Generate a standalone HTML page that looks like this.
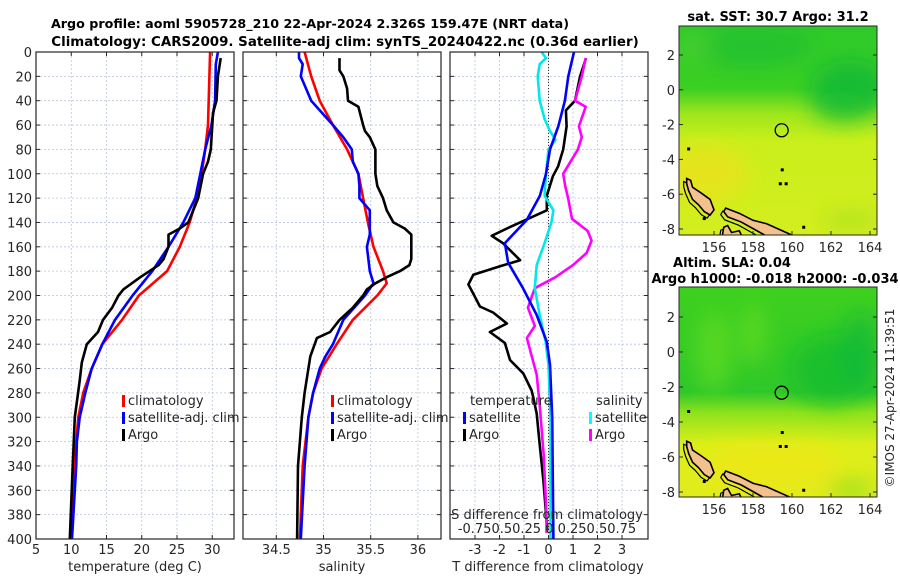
<!DOCTYPE html>
<html><head><meta charset="utf-8">
<style>
html,body{margin:0;padding:0;background:#fff;}
svg{display:block;font-family:"DejaVu Sans","Liberation Sans",sans-serif;}
</style></head>
<body>
<svg id="chart" width="900" height="580" viewBox="0 0 900 580" xmlns="http://www.w3.org/2000/svg">
<defs>
<clipPath id="cp1"><rect x="36" y="52" width="198" height="487"/></clipPath>
<clipPath id="cp2"><rect x="243" y="52" width="198" height="487"/></clipPath>
<clipPath id="cp3"><rect x="450" y="52" width="198" height="487"/></clipPath>
<clipPath id="cpm1"><rect x="679" y="26" width="198" height="209"/></clipPath>
<clipPath id="cpm2"><rect x="679" y="287" width="198" height="210"/></clipPath>
<filter id="blur" x="-50%" y="-50%" width="200%" height="200%"><feGaussianBlur stdDeviation="10"/></filter>
<linearGradient id="gTop" x1="0" y1="0" x2="0" y2="1">
<stop offset="0" stop-color="#2ec92a"/><stop offset="0.3" stop-color="#3ccf22"/><stop offset="0.42" stop-color="#9ee61c"/><stop offset="0.55" stop-color="#c9ef1c"/><stop offset="1" stop-color="#d4ee1e"/></linearGradient>
<linearGradient id="gBot" x1="0" y1="0" x2="0" y2="1">
<stop offset="0" stop-color="#3fd01f"/><stop offset="0.5" stop-color="#2fc82a"/><stop offset="0.6" stop-color="#8fe21c"/><stop offset="0.75" stop-color="#dcef1a"/><stop offset="1" stop-color="#e2ec1c"/></linearGradient>
</defs>
<g id="root"></g>
</svg>
<script>
// ---- Temperature profiles (depth in dbar, temperature deg C)
const tClimDepth=[0,60,80,100,120,140,160,180,200,220,240,260,280,300,320,340,360,400];
const tClimVal=[29.7,29.4,29.0,28.5,27.8,26.8,25.4,23.6,19.6,17.2,14.4,12.9,11.7,11.0,10.7,10.4,10.2,9.9];
const tSatDepth=[0,10,40,60,80,100,120,140,160,180,200,220,240,260,280,300,320,340,360,400];
const tSatVal=[30.8,30.5,30.4,29.9,29.0,28.3,27.6,25.9,23.8,21.5,18.7,16.2,14.4,12.9,12.0,11.2,10.8,10.7,10.5,10.1];
const tArgoDepth=[5,20,40,50,60,80,90,100,120,140,145,150,160,170,175,185,195,200,210,220,230,240,255,270,300,340,400];
const tArgoVal=[31.2,30.8,30.6,30.1,30.0,29.8,29.4,28.7,28.0,26.6,25.4,23.8,23.8,23.1,22.4,19.8,17.4,16.7,15.8,14.5,13.8,12.2,11.5,11.2,10.5,10.2,9.8];
// ---- Salinity profiles
const sClimDepth=[0,20,40,60,80,100,120,140,160,180,190,200,220,240,260,280,300,340,400];
const sClimVal=[34.80,34.87,34.96,35.10,35.25,35.37,35.42,35.47,35.53,35.63,35.67,35.57,35.31,35.14,34.98,34.89,34.84,34.78,34.75];
const sSatDepth=[0,5,10,20,40,60,70,80,90,100,110,120,130,150,160,180,190,200,220,240,250,260,280,300,340,400];
const sSatVal=[34.74,34.74,34.78,34.76,34.87,35.10,35.21,35.30,35.31,35.37,35.38,35.38,35.49,35.49,35.46,35.49,35.53,35.44,35.21,35.10,35.02,34.96,34.89,34.84,34.80,34.76];
const sArgoDepth=[5,15,20,30,40,45,60,65,70,80,100,110,120,130,140,145,150,160,170,175,180,185,190,195,200,210,220,230,235,250,260,280,300,340,400];
const sArgoVal=[35.17,35.17,35.21,35.25,35.26,35.37,35.42,35.44,35.49,35.55,35.55,35.57,35.63,35.67,35.74,35.86,35.93,35.93,35.93,35.91,35.81,35.67,35.55,35.46,35.42,35.31,35.17,35.07,34.93,34.86,34.84,34.80,34.77,34.73,34.72];
// ---- Differences from climatology
const dTSatDepth=[0,20,40,61,80,100,118,138,157,173,194,216,238,257,300,400];
const dTSatVal=[1.04,0.81,0.67,0.40,0.06,-0.10,-0.35,-0.89,-1.78,-1.65,-1.04,-0.48,-0.07,0.06,0.15,0.20];
const dTArgoDepth=[5,20,40,48,61,80,94,102,118,130,140,145,151,157,171,176,183,191,198,209,214,223,230,239,253,264,278,283,297,324,352,379,393];
const dTArgoVal=[1.53,1.29,1.08,0.71,0.74,0.60,0.39,0.18,-0.07,-0.07,-1.16,-1.70,-2.32,-1.86,-1.16,-1.98,-3.07,-3.27,-3.08,-2.80,-2.26,-1.70,-2.39,-1.78,-1.57,-1.03,-0.69,-0.63,-0.48,-0.35,-0.21,-0.10,-0.05];
const dSSatDepth=[0,5,10,20,40,55,65,72,80,100,118,130,140,157,175,194,216,238,257,300,400];
const dSSatVal=[-0.07,-0.025,-0.09,-0.11,-0.09,-0.04,0.015,0.07,0.0,-0.025,-0.04,0.05,0.03,-0.04,-0.12,-0.14,-0.09,-0.03,0.0,0.02,0.02];
const dSArgoDepth=[5,20,40,45,61,70,80,100,110,120,137,147,155,165,175,185,194,210,225,235,250,265,290,330,380,395];
const dSArgoVal=[0.38,0.34,0.27,0.38,0.31,0.34,0.30,0.15,0.17,0.20,0.24,0.40,0.44,0.39,0.25,0.07,-0.14,-0.21,-0.14,-0.22,-0.17,-0.12,-0.09,-0.05,-0.02,-0.02];
// ---- Tick labels
const depthTicks=[0,20,40,60,80,100,120,140,160,180,200,220,240,260,280,300,320,340,360,380,400];
const tTicks=[5,10,15,20,25,30];
const sTicks=[34.5,35,35.5,36];
const dTTicks=[-3,-2,-1,0,1,2,3];
const lonTicks=[156,158,160,162,164];
const latTicks=[2,0,-2,-4,-6,-8];
// ---- Argo location
const argoLon=[159.47];
const argoLat=[-2.326];

const NS='http://www.w3.org/2000/svg';
const root=document.getElementById('root');
function mk(tag,attrs,parent){const e=document.createElementNS(NS,tag);for(const k in attrs)e.setAttribute(k,attrs[k]);(parent||root).appendChild(e);return e;}
function txt(x,y,s,attrs,parent){const e=mk('text',Object.assign({x:x,y:y,'font-size':13,fill:'#262626'},attrs||{}),parent);e.textContent=s;return e;}

const PT=52,PB=539,PH=PB-PT;
const yD=d=>PT+d/400*PH;
const xT=t=>36+(t-5)*7.05;
const xS=s=>276.3+(s-34.5)*94.4;
const xDT=v=>548.5+v*24.5;
const xDS=v=>548.5+v*4*24.5;

function panel(x0,name,vticks,xf,labelFmt,showLabels){
  const g=mk('g',{});
  
  
  depthTicks.forEach(d=>{mk('line',{x1:x0,x2:x0+198,y1:yD(d),y2:yD(d),stroke:'#b8c4dc','stroke-width':0.8,'stroke-dasharray':'2,2'},g);
    mk('line',{x1:x0,x2:x0+4,y1:yD(d),y2:yD(d),stroke:'#262626'},g);
    mk('line',{x1:x0+194,x2:x0+198,y1:yD(d),y2:yD(d),stroke:'#262626'},g);});
  vticks.forEach(v=>{const x=xf(v);mk('line',{x1:x,x2:x,y1:PT,y2:PB,stroke:'#b8c4dc','stroke-width':0.8,'stroke-dasharray':'2,2'},g);
    mk('line',{x1:x,x2:x,y1:PB-4,y2:PB,stroke:'#262626'},g);mk('line',{x1:x,x2:x,y1:PT,y2:PT+4,stroke:'#262626'},g);
    if(showLabels){const t=txt(x,554,labelFmt(v),{'text-anchor':'middle'},g);
      
      }});
  return g;
}
function frame(x0,name){const r=mk('rect',{x:x0,y:PT,width:198,height:PH,fill:'none',stroke:'#262626','stroke-width':1.2});
  
  }
function series(depths,vals,xf,color,clip,name){
  const pts=depths.map((d,i)=>xf(vals[i]).toFixed(1)+','+yD(d).toFixed(1)).join(' ');
  const p=mk('polyline',{points:pts,fill:'none',stroke:color,'stroke-width':2.6,'stroke-linejoin':'round','clip-path':'url(#'+clip+')'});
  
  
}
function legendEntry(x,y,color,label,name){
  const g=mk('g',{});
  
  
  mk('rect',{x:x,y:y-10,width:3,height:12,fill:color},g);
  txt(x+6,y,label,{'font-size':13},g);
}

// Title
const t1=txt(310,28,'Argo profile: aoml 5905728_210 22-Apr-2024 2.326S 159.47E (NRT data)',{'text-anchor':'middle','font-weight':'bold',fill:'#000','font-size':12.7});


const t2=txt(345,46,'Climatology: CARS2009. Satellite-adj clim: synTS_20240422.nc (0.36d earlier)',{'text-anchor':'middle','font-weight':'bold',fill:'#000','font-size':13.4});



// Panel 1 temperature
panel(36,'temperature-grid',tTicks,xT,v=>String(v),true);
depthTicks.forEach(d=>{const t=txt(32,yD(d)+5,String(d),{'text-anchor':'end'});
  
  });
series(tClimDepth,tClimVal,xT,'#ff0000','cp1','temperature-climatology-line');
series(tSatDepth,tSatVal,xT,'#0000ff','cp1','temperature-satellite-line');
series(tArgoDepth,tArgoVal,xT,'#000000','cp1','temperature-argo-line');
frame(36,'temperature-axes');
legendEntry(122,405,'#ff0000','climatology','legend-climatology');
legendEntry(122,422,'#0000ff','satellite-adj. clim','legend-satellite');
legendEntry(122,439,'#000000','Argo','legend-argo');
let xl=txt(135,571,'temperature (deg C)',{'text-anchor':'middle'});



// Panel 2 salinity
panel(243,'salinity-grid',sTicks,xS,v=>String(v),true);
series(sClimDepth,sClimVal,xS,'#ff0000','cp2','salinity-climatology-line');
series(sSatDepth,sSatVal,xS,'#0000ff','cp2','salinity-satellite-line');
series(sArgoDepth,sArgoVal,xS,'#000000','cp2','salinity-argo-line');
frame(243,'salinity-axes');
legendEntry(331,405,'#ff0000','climatology','legend-climatology-s');
legendEntry(331,422,'#0000ff','satellite-adj. clim','legend-satellite-s');
legendEntry(331,439,'#000000','Argo','legend-argo-s');
xl=txt(342,571,'salinity',{'text-anchor':'middle'});



// Panel 3 differences
panel(450,'difference-grid',dTTicks,xDT,v=>String(v),true);
mk('line',{x1:xDT(0),x2:xDT(0),y1:PT,y2:PB,stroke:'#333','stroke-width':1,'stroke-dasharray':'1,2'});
series(dTArgoDepth,dTArgoVal,xDT,'#000000','cp3','t-diff-argo-line');
series(dSArgoDepth,dSArgoVal,xDS,'#ff00ff','cp3','s-diff-argo-line');
series(dSSatDepth,dSSatVal,xDS,'#00e8e8','cp3','s-diff-satellite-line');
series(dTSatDepth,dTSatVal,xDT,'#0000ff','cp3','t-diff-satellite-line');
frame(450,'difference-axes');
txt(470,405,'temperature',{});
txt(596,405,'salinity',{});
legendEntry(463,422,'#0000ff','satellite','legend-t-satellite');
legendEntry(463,439,'#000000','Argo','legend-t-argo');
legendEntry(589,422,'#00ffff','satellite','legend-s-satellite');
legendEntry(589,439,'#ff00ff','Argo','legend-s-argo');
xl=txt(547,519,'S difference from climatology',{'text-anchor':'middle'});


xl=txt(547,533,'-0.750.50.25 0 0.250.50.75',{'text-anchor':'middle'});


xl=txt(548,571,'T difference from climatology',{'text-anchor':'middle'});



// Maps
const xLon=l=>714+(l-156)*19.5;
const land1=[[154.6,-5.1],[154.8,-5.2],[154.9,-5.6],[155.3,-5.9],[155.8,-6.3],[156.0,-6.9],[155.8,-7.2],[155.5,-7.0],[155.2,-6.6],[154.9,-6.3],[154.7,-5.8],[154.6,-5.4]];
const land2=[[156.6,-6.8],[157.3,-7.1],[158.0,-7.5],[158.7,-7.7],[159.3,-8.0],[159.9,-8.3],[160.3,-8.6],[159.0,-8.6],[158.2,-8.1],[157.4,-7.6],[156.7,-7.3],[156.5,-7.0]];
const land3=[[156.5,-7.9],[156.7,-7.8],[156.9,-8.2],[157.3,-8.1],[157.5,-8.6],[156.4,-8.6]];
function map(top,bottom,yLat,gradId,blobs,titleLines,name,clip){
  const g=mk('g',{});
  
  
  const c=mk('g',{'clip-path':'url(#'+clip+')'},g);
  mk('rect',{x:679,y:top,width:198,height:bottom-top,fill:'url(#'+gradId+')'},c);
  const bg=mk('g',{filter:'url(#blur)'},c);
  blobs.forEach(b=>mk('ellipse',{cx:xLon(b[0]),cy:yLat(b[1]),rx:b[2],ry:b[3],fill:b[4],opacity:b[5]},bg));
  [land1,land2,land3].forEach(poly=>{
    mk('polygon',{points:poly.map(p=>(xLon(p[0])-3)+','+(yLat(p[1])+3)).join(' '),fill:'none',stroke:'#000','stroke-width':1.2},c);
    const pl=mk('polygon',{points:poly.map(p=>xLon(p[0])+','+yLat(p[1])).join(' '),fill:'#f4c08e',stroke:'#000','stroke-width':1.6},c);
    
    });
  [[154.7,-3.4],[159.5,-4.6],[159.4,-5.4],[159.7,-5.4],[160.6,-7.9],[155.5,-7.4]].forEach(p=>mk('rect',{x:xLon(p[0])-1.5,y:yLat(p[1])-1.5,width:3,height:3,fill:'#000'},c));
  const m=mk('circle',{cx:xLon(argoLon[0]),cy:yLat(argoLat[0]),r:6.5,fill:'none',stroke:'#000','stroke-width':1.3},g);
  
  
  mk('rect',{x:679,y:top,width:198,height:bottom-top,fill:'none',stroke:'#262626','stroke-width':1},g);
  lonTicks.forEach(l=>{const x=xLon(l);mk('line',{x1:x,x2:x,y1:bottom-4,y2:bottom,stroke:'#262626'},g);
    const t=txt(x,bottom+17,String(l),{'text-anchor':'middle'},g);
    
    });
  latTicks.forEach(l=>{const y=yLat(l);mk('line',{x1:679,x2:683,y1:y,y2:y,stroke:'#262626'},g);mk('line',{x1:873,x2:877,y1:y,y2:y,stroke:'#262626'},g);
    const t=txt(675,y+5,String(l),{'text-anchor':'end'},g);
    
    });
  titleLines.forEach(tl=>{const t=txt(tl[0],tl[1],tl[2],{'text-anchor':'middle','font-weight':'bold',fill:'#000'},g);
    
    });
}
map(26,235,l=>55+(2-l)*17.4,'gTop',
  [[158,2.5,60,20,'#1fc030',0.8],[163,0,40,30,'#0fb838',0.8],[162.5,-1,30,15,'#20c030',0.6],[155.5,-4.8,45,28,'#f0e020',0.7],[163,-7.5,30,10,'#9ee020',0.6],[155,2.5,20,15,'#50d030',0.6]],
  [[778,21,'sat. SST: 30.7 Argo: 31.2']],'sst-map','cpm1');
map(287,497,l=>317+(2-l)*17.5,'gBot',
  [[156,0,18,40,'#6ae020',0.6],[158,1,12,30,'#7ae41e',0.5],[162,-1,40,35,'#10bc30',0.7],[163.5,0,20,40,'#0fb838',0.7],[159,-6.5,70,25,'#f4e418',0.6],[163,-7.8,25,10,'#7adc20',0.6]],
  [[732,267,'Altim. SLA: 0.04'],[775,283,'Argo h1000: -0.018 h2000: -0.034']],'sla-map','cpm2');

const cr=txt(0,0,'©IMOS 27-Apr-2024 11:39:51',{'text-anchor':'middle','font-size':12,transform:'translate(894,398) rotate(-90)'});


</script>
</body></html>
